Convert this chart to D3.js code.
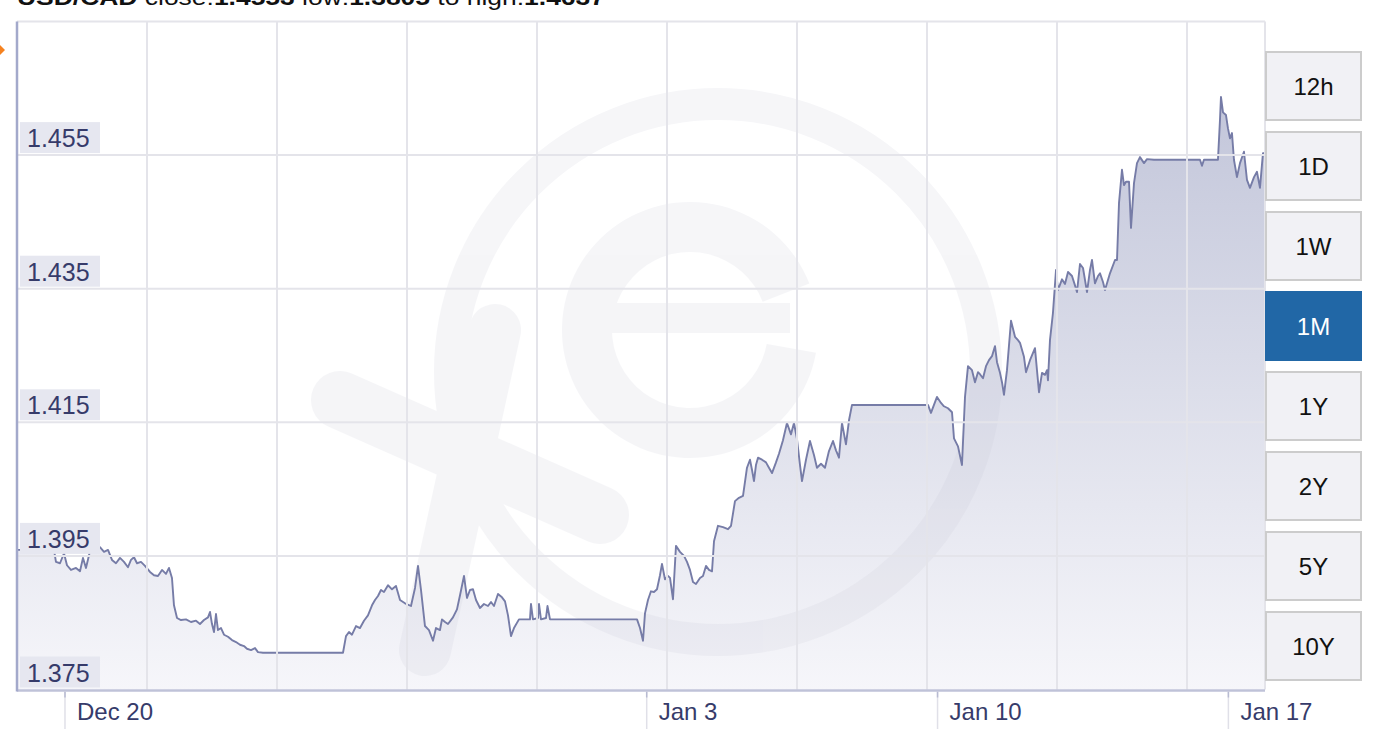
<!DOCTYPE html>
<html><head><meta charset="utf-8">
<script src="https://cdn.jsdelivr.net/npm/d3@7"></script>
<style>
body{margin:0;background:#fff;}
svg{display:block;font-family:"Liberation Sans",Arial,Helvetica,sans-serif;}
</style>
</head><body>
<svg id="chart" width="1386" height="748"></svg>
<script>
// ---------- DATA ----------
const pair = "USD/CAD";
const baseDate = "2015-12-20T00:00:00";           // day offsets are counted from here
const xDomainDays = [-1.155, 28.881];
const yDomain = [1.375, 1.475];
const yTicks = [1.375, 1.395, 1.415, 1.435, 1.455];
const xTickDates = ["2015-12-20T00:00:00","2016-01-03T00:00:00","2016-01-10T00:00:00","2016-01-17T00:00:00"];
const xTickLabels = ["Dec 20","Jan 3","Jan 10","Jan 17"];
const ranges = ["12h","1D","1W","1M","1Y","2Y","5Y","10Y"];
const activeRange = "1M";

const dayOffsets = [
-1.155,-0.265,-0.217,-0.120,-0.024,0.048,0.144,0.265,0.361,0.433,
0.505,0.578,0.626,0.722,0.842,0.939,1.035,1.131,1.227,1.324,
1.420,1.516,1.588,1.661,1.733,1.829,1.925,2.046,2.142,2.238,
2.335,2.431,2.503,2.575,2.623,2.696,2.792,2.912,3.032,3.153,
3.249,3.345,3.442,3.490,3.538,3.586,3.634,3.682,3.755,3.827,
3.923,4.019,4.116,4.212,4.308,4.380,4.477,4.573,4.645,4.765,
6.691,6.763,6.835,6.907,7.004,7.100,7.196,7.292,7.389,7.461,
7.533,7.605,7.677,7.774,7.870,7.966,8.063,8.183,8.327,8.424,
8.496,8.568,8.664,8.760,8.857,8.929,9.025,9.073,9.146,9.218,
9.338,9.434,9.507,9.603,9.675,9.747,9.819,9.892,9.988,10.084,
10.180,10.253,10.325,10.421,10.517,10.590,10.662,10.734,10.806,10.926,
11.191,11.215,11.263,11.384,11.408,11.456,11.576,11.612,11.673,13.767,
13.839,13.911,13.959,14.031,14.103,14.176,14.248,14.320,14.368,14.440,
14.512,14.561,14.633,14.705,14.801,14.898,14.970,15.042,15.114,15.186,
15.283,15.355,15.427,15.499,15.572,15.620,15.716,15.836,15.957,16.029,
16.125,16.221,16.318,16.414,16.486,16.534,16.582,16.630,16.679,16.775,
16.871,16.943,17.016,17.112,17.184,17.280,17.376,17.473,17.545,17.617,
17.690,17.738,17.834,17.930,18.026,18.098,18.195,18.291,18.387,18.484,
18.556,18.628,18.700,18.796,18.869,18.941,20.770,20.842,20.914,20.987,
21.083,21.155,21.251,21.348,21.396,21.492,21.588,21.661,21.733,21.829,
21.901,21.973,22.021,22.094,22.166,22.238,22.310,22.383,22.431,22.503,
22.551,22.599,22.671,22.768,22.864,22.936,22.984,23.080,23.129,23.225,
23.345,23.393,23.442,23.514,23.586,23.634,23.658,23.706,23.778,23.851,
23.899,23.995,24.067,24.140,24.236,24.308,24.356,24.428,24.501,24.549,
24.597,24.669,24.717,24.789,24.862,24.910,24.982,25.030,25.150,25.271,
25.319,25.367,25.439,25.487,25.535,25.608,25.656,25.728,25.800,25.872,
25.969,26.041,26.209,27.316,27.364,27.412,27.749,27.797,27.821,27.870,
27.942,27.990,28.038,28.086,28.134,28.206,28.279,28.375,28.447,28.519,
28.616,28.688,28.760,28.832,28.881];

const rates = [
1.3959,1.3959,1.3941,1.3939,1.3954,1.3936,1.3929,1.3932,1.3927,1.3947,
1.3932,1.3951,1.3966,1.3962,1.3963,1.3956,1.3959,1.3944,1.3939,1.3947,
1.3941,1.3933,1.3944,1.3948,1.3939,1.3941,1.3935,1.3926,1.3921,1.3920,
1.3929,1.3923,1.3932,1.3917,1.3876,1.3857,1.3854,1.3855,1.3851,1.3853,
1.3848,1.3854,1.3858,1.3866,1.3848,1.3836,1.3863,1.3839,1.3842,1.3832,
1.3829,1.3824,1.3821,1.3817,1.3815,1.3811,1.3809,1.3812,1.3806,1.3805,
1.3805,1.3830,1.3836,1.3832,1.3845,1.3842,1.3853,1.3861,1.3876,1.3884,
1.3890,1.3899,1.3896,1.3906,1.3900,1.3905,1.3884,1.3879,1.3875,1.3902,
1.3935,1.3899,1.3845,1.3839,1.3823,1.3842,1.3839,1.3855,1.3851,1.3848,
1.3858,1.3870,1.3891,1.3920,1.3887,1.3899,1.3900,1.3884,1.3872,1.3878,
1.3875,1.3881,1.3875,1.3893,1.3888,1.3882,1.3861,1.3830,1.3842,1.3855,
1.3855,1.3878,1.3855,1.3857,1.3878,1.3855,1.3857,1.3875,1.3855,1.3855,
1.3842,1.3823,1.3864,1.3884,1.3897,1.3896,1.3900,1.3921,1.3938,1.3915,
1.3920,1.3917,1.3885,1.3965,1.3956,1.3950,1.3941,1.3929,1.3911,1.3908,
1.3917,1.3920,1.3935,1.3929,1.3927,1.3972,1.3995,1.3993,1.3990,1.3995,
1.4032,1.4037,1.4040,1.4082,1.4094,1.4079,1.4062,1.4086,1.4097,1.4094,
1.4090,1.4082,1.4074,1.4090,1.4103,1.4123,1.4149,1.4132,1.4149,1.4125,
1.4086,1.4062,1.4094,1.4122,1.4101,1.4082,1.4088,1.4082,1.4107,1.4122,
1.4108,1.4097,1.4149,1.4117,1.4153,1.4176,1.4176,1.4164,1.4176,1.4188,
1.4179,1.4174,1.4171,1.4165,1.4126,1.4114,1.4086,1.4188,1.4234,1.4228,
1.4210,1.4225,1.4222,1.4216,1.4234,1.4243,1.4249,1.4264,1.4240,1.4224,
1.4210,1.4191,1.4228,1.4302,1.4278,1.4273,1.4269,1.4248,1.4225,1.4243,
1.4261,1.4228,1.4195,1.4224,1.4221,1.4228,1.4213,1.4273,1.4314,1.4378,
1.4348,1.4364,1.4357,1.4375,1.4369,1.4355,1.4345,1.4387,1.4381,1.4363,
1.4345,1.4378,1.4393,1.4358,1.4369,1.4373,1.4360,1.4348,1.4373,1.4393,
1.4393,1.4478,1.4528,1.4505,1.4510,1.4510,1.4441,1.4508,1.4538,1.4547,
1.4538,1.4544,1.4543,1.4543,1.4534,1.4543,1.4543,1.4602,1.4637,1.4614,
1.4610,1.4590,1.4575,1.4583,1.4543,1.4517,1.4538,1.4555,1.4513,1.4501,
1.4517,1.4525,1.4501,1.4553,1.4553];

// ---------- SETUP ----------
const svg = d3.select("#chart");
const W = 1386, H = 748;
const plot = {left: 17, right: 1265, top: 21.5, bottom: 689.5};
const base = new Date(baseDate);
const toDate = d => new Date(base.getTime() + d * 864e5);
const data = dayOffsets.map((d, i) => ({t: toDate(d), v: rates[i]}));

const x = d3.scaleTime().domain(xDomainDays.map(toDate)).range([plot.left, plot.right]);
const y = d3.scaleLinear().domain(yDomain).range([plot.bottom, plot.top]);

svg.append("rect").attr("width", W).attr("height", H).attr("fill", "#fff");

const defs = svg.append("defs");
const grad = defs.append("linearGradient").attr("id", "fillGrad")
  .attr("gradientUnits", "userSpaceOnUse")
  .attr("x1", 0).attr("x2", 0).attr("y1", plot.top).attr("y2", plot.bottom);
grad.append("stop").attr("offset", 0).attr("stop-color", "#bcc0d6");
grad.append("stop").attr("offset", 1).attr("stop-color", "#f6f6fa");
defs.append("clipPath").attr("id", "plotClip").append("rect")
  .attr("x", plot.left).attr("y", plot.top).attr("width", plot.right - plot.left).attr("height", plot.bottom - plot.top);

// title (cut off at the top of the frame, as in the screenshot)
const fmt = d3.format(".4f");
const title = svg.append("text").attr("x", 17).attr("y", 5).attr("font-size", 22).attr("fill", "#111")
  .attr("textLength", 588).attr("lengthAdjust", "spacingAndGlyphs");
[[pair + " ", true], ["close:", false], [fmt(rates[rates.length - 1]) + " ", true], ["low:", false],
 [fmt(d3.min(rates)) + " ", true], ["to high:", false], [fmt(d3.max(rates)), true]]
  .forEach(([s, b]) => title.append("tspan").attr("font-weight", b ? "bold" : "normal").text(s));

// orange marker at the left edge
svg.append("path").attr("d", "M-2,43 L5,50 L-2,57 Z").attr("fill", "#f58220");

// area
const g = svg.append("g").attr("clip-path", "url(#plotClip)");
g.append("path").datum(data)
  .attr("d", d3.area().x(d => x(d.t)).y0(plot.bottom).y1(d => y(d.v)))
  .attr("fill", "url(#fillGrad)");

// watermark (xe logo), very faint
const wmc = "#c4c5d4";
const wm = g.append("g").attr("fill", "none").attr("stroke", wmc).attr("opacity", 0.16).attr("stroke-linecap", "round");
wm.append("circle").attr("cx", 718).attr("cy", 372).attr("r", 268).attr("stroke-width", 32);
wm.append("line").attr("x1", 340).attr("y1", 400).attr("x2", 600).attr("y2", 515).attr("stroke-width", 58);
wm.append("line").attr("x1", 495).attr("y1", 330).attr("x2", 425).attr("y2", 650).attr("stroke-width", 52);
wm.append("path").attr("d", d3.arc()({innerRadius: 78, outerRadius: 128, startAngle: 1.75, endAngle: 2 * Math.PI + 1.2}))
  .attr("transform", "translate(690,330)").attr("fill", wmc).attr("stroke", "none");
wm.append("line").attr("x1", 605).attr("y1", 318).attr("x2", 790).attr("y2", 318).attr("stroke-width", 30).attr("stroke-linecap", "butt");

// grid
const gridColor = "#e4e4ea";
const grid = svg.append("g").attr("stroke", gridColor).attr("stroke-width", 2);
grid.selectAll(".hg").data(yTicks.slice(1)).join("line")
  .attr("x1", plot.left).attr("x2", plot.right).attr("y1", d => y(d)).attr("y2", d => y(d));
grid.append("line").attr("x1", plot.left).attr("x2", plot.right).attr("y1", plot.top).attr("y2", plot.top);
const step = (plot.right - plot.left) / 9.6;
grid.selectAll(".vg").data(d3.range(1, 10).map(i => plot.left + i * step)).join("line")
  .attr("x1", d => d).attr("x2", d => d).attr("y1", plot.top).attr("y2", plot.bottom);
grid.append("line").attr("x1", plot.right).attr("x2", plot.right).attr("y1", plot.top).attr("y2", plot.bottom);

// line
g.append("path").datum(data)
  .attr("d", d3.line().x(d => x(d.t)).y(d => y(d.v)))
  .attr("fill", "none").attr("stroke", "#767ca7").attr("stroke-width", 1.9).attr("stroke-linejoin", "round");

// axes lines
svg.append("line").attr("x1", plot.left).attr("x2", plot.right).attr("y1", plot.bottom + 1).attr("y2", plot.bottom + 1)
  .attr("stroke", "#bfc2d8").attr("stroke-width", 2.5);
svg.append("line").attr("x1", plot.left).attr("x2", plot.left).attr("y1", plot.top).attr("y2", plot.bottom + 2)
  .attr("stroke", "#a3a9cb").attr("stroke-width", 2.5);

// y labels
const yl = svg.append("g");
yTicks.forEach(v => {
  yl.append("rect").attr("x", 20).attr("y", y(v) - 33).attr("width", 80).attr("height", 31).attr("fill", "#e6e7f0");
  yl.append("text").attr("x", 27).attr("y", y(v) - 8).attr("font-size", 25).attr("fill", "#363b6a").text(d3.format(".3f")(v));
});

// x ticks & labels
const xt = svg.append("g");
xTickDates.forEach((s, i) => {
  const px = x(new Date(s));
  xt.append("line").attr("x1", px).attr("x2", px).attr("y1", plot.bottom + 2).attr("y2", 729)
    .attr("stroke", "#e0e0e8").attr("stroke-width", 1.5);
  xt.append("line").attr("x1", px).attr("x2", px).attr("y1", plot.bottom + 2).attr("y2", plot.bottom + 8)
    .attr("stroke", "#b8bbd2").attr("stroke-width", 1.5);
  xt.append("text").attr("x", px + 12).attr("y", 720).attr("font-size", 24).attr("fill", "#363b6a").text(xTickLabels[i]);
});

// range buttons
const bx = 1265, bw = 97, bh = 70, by0 = 51, bstep = 80;
const btn = svg.append("g").selectAll("g").data(ranges).join("g")
  .attr("transform", (d, i) => `translate(${bx},${by0 + i * bstep})`);
btn.append("rect").attr("x", 1).attr("y", 1).attr("width", bw - 2).attr("height", bh - 2)
  .attr("fill", d => d === activeRange ? "#2167a6" : "#f1f1f5")
  .attr("stroke", d => d === activeRange ? "#2167a6" : "#cccccc").attr("stroke-width", 2);
btn.append("text").attr("x", bw / 2).attr("y", 44).attr("text-anchor", "middle").attr("font-size", 24)
  .attr("fill", d => d === activeRange ? "#fff" : "#111").text(d => d);
</script>
</body></html>
